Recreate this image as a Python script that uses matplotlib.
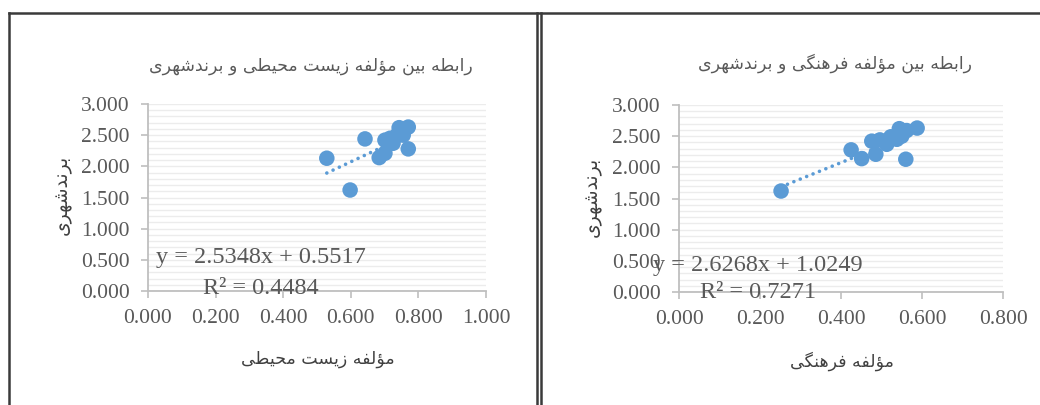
import matplotlib as mpl
import matplotlib.pyplot as plt
import numpy as np
from matplotlib.lines import Line2D
mpl.use('Agg')

# data (same dependent variable)
brand = [1.62, 2.13, 2.14, 2.21, 2.28, 2.37, 2.42, 2.44, 2.45, 2.50, 2.49, 2.59, 2.62, 2.63]
env = [0.598, 0.529, 0.684, 0.701, 0.770, 0.725, 0.701, 0.642, 0.716, 0.755, 0.735, 0.760, 0.743, 0.770]
cult = [0.252, 0.560, 0.451, 0.486, 0.425, 0.513, 0.476, 0.496, 0.538, 0.550, 0.523, 0.562, 0.544, 0.588]

env_fit = (2.5348, 0.5517, 0.4484)
cult_fit = (2.6268, 1.0249, 0.7271)

title_env = 'رابطه بین مؤلفه زیست محیطی و برندشهری'
title_cult = 'رابطه بین مؤلفه فرهنگی و برندشهری'
xlab_env = 'مؤلفه زیست محیطی'
xlab_cult = 'مؤلفه فرهنگی'
ylab = 'برندشهری'

env_xticks = [0.0, 0.2, 0.4, 0.6, 0.8, 1.0]
cult_xticks = [0.0, 0.2, 0.4, 0.6, 0.8]
yticks = [0.0, 0.5, 1.0, 1.5, 2.0, 2.5, 3.0]

# matplotlib has no arabic shaping, so pick presentation forms by hand
# (isolated, final, initial, medial); None = letter does not join forward
FORMS = {
    'ا': ('\uFE8D', '\uFE8E', None, None),
    'ب': ('\uFE8F', '\uFE90', '\uFE91', '\uFE92'),
    'ت': ('\uFE95', '\uFE96', '\uFE97', '\uFE98'),
    'ح': ('\uFEA1', '\uFEA2', '\uFEA3', '\uFEA4'),
    'د': ('\uFEA9', '\uFEAA', None, None),
    'ر': ('\uFEAD', '\uFEAE', None, None),
    'ز': ('\uFEAF', '\uFEB0', None, None),
    'س': ('\uFEB1', '\uFEB2', '\uFEB3', '\uFEB4'),
    'ش': ('\uFEB5', '\uFEB6', '\uFEB7', '\uFEB8'),
    'ط': ('\uFEC1', '\uFEC2', '\uFEC3', '\uFEC4'),
    'ف': ('\uFED1', '\uFED2', '\uFED3', '\uFED4'),
    'ل': ('\uFEDD', '\uFEDE', '\uFEDF', '\uFEE0'),
    'م': ('\uFEE1', '\uFEE2', '\uFEE3', '\uFEE4'),
    'ن': ('\uFEE5', '\uFEE6', '\uFEE7', '\uFEE8'),
    'ه': ('\uFEE9', '\uFEEA', '\uFEEB', '\uFEEC'),
    'و': ('\uFEED', '\uFEEE', None, None),
    'ؤ': ('\uFE85', '\uFE86', None, None),
    'ی': ('\uFBFC', '\uFBFD', '\uFBFE', '\uFBFF'),
    'گ': ('\uFB92', '\uFB93', '\uFB94', '\uFB95'),
}


def shape(s):
    out = []
    for i, ch in enumerate(s):
        if ch not in FORMS:
            out.append(ch)
            continue
        prev = s[i - 1] if i > 0 else ''
        nxt = s[i + 1] if i + 1 < len(s) else ''
        jp = prev in FORMS and FORMS[prev][2] is not None
        jn = nxt in FORMS and FORMS[ch][2] is not None
        iso, fin, ini, med = FORMS[ch]
        if jp and jn:
            out.append(med)
        elif jp:
            out.append(fin)
        elif jn:
            out.append(ini)
        else:
            out.append(iso)
    return ''.join(reversed(out))


blue = '#5B9BD5'
grey = '#595959'
fa = ['DejaVu Sans']
serif = ['Liberation Serif', 'DejaVu Serif']

fig = plt.figure(figsize=(10.4, 4.05), dpi=100)


def panel(rect, x, fit, xticks, xmax):
    ax = fig.add_axes(rect)
    ax.set_xlim(0, xmax)
    ax.set_ylim(0, 3)
    ax.set_xticks(xticks)
    ax.set_yticks(yticks)
    ax.set_yticks(np.arange(0, 3.01, 0.1), minor=True)
    ax.set_xticklabels(['%.3f' % t for t in xticks], family=serif, fontsize=15.5, color=grey)
    ax.set_yticklabels(['%.3f' % t for t in yticks], family=serif, fontsize=15.5, color=grey)
    ax.tick_params(which='major', length=5, width=1.2, color='#bfbfbf', pad=8)
    ax.tick_params(which='minor', length=0)
    ax.grid(axis='y', which='both', color='#ececec', lw=1)
    ax.set_axisbelow(True)
    for s in ['top', 'right']:
        ax.spines[s].set_visible(False)
    for s in ['left', 'bottom']:
        ax.spines[s].set_color('#bfbfbf')
        ax.spines[s].set_linewidth(1.3)
    # Excel linear trendline (round dots), min x to max x
    xs = np.array([min(x), max(x)])
    ax.plot(xs, fit[0] * xs + fit[1], color=blue, lw=2.6, ls=(0, (0.01, 1.9)),
            dash_capstyle='round', zorder=2)
    ax.scatter(x, brand, s=125, color=blue, edgecolor='none', zorder=3)
    return ax


panel([148 / 1040, 1 - 291 / 405, 338 / 1040, 187 / 405], env, env_fit, env_xticks, 1.0)
panel([679 / 1040, 1 - 292 / 405, 324 / 1040, 187 / 405], cult, cult_fit, cult_xticks, 0.8)

# equations
for cx, y1, y2, fit in [(261, 258, 288, env_fit), (758, 265, 293, cult_fit)]:
    fig.text(cx / 1040, 1 - y1 / 405, 'y = %.4fx + %.4f' % (fit[0], fit[1]),
             family=serif, fontsize=17.5, color=grey, ha='center', va='center')
    fig.text(cx / 1040, 1 - y2 / 405, 'R\u00b2 = %.4f' % fit[2],
             family=serif, fontsize=17.5, color=grey, ha='center', va='center')

# titles and axis labels
fig.text(311 / 1040, 1 - 66 / 405, shape(title_env), family=fa, fontsize=12.5,
         color=grey, ha='center', va='center')
fig.text(835 / 1040, 1 - 63 / 405, shape(title_cult), family=fa, fontsize=12.5,
         color=grey, ha='center', va='center')
fig.text(318 / 1040, 1 - 359 / 405, shape(xlab_env), family=fa, fontsize=12.5,
         color='#404040', ha='center', va='center')
fig.text(842 / 1040, 1 - 361 / 405, shape(xlab_cult), family=fa, fontsize=12.5,
         color='#404040', ha='center', va='center')
fig.text(62 / 1040, 1 - 195 / 405, shape(ylab), family=fa, fontsize=13.5,
         color='#404040', ha='center', va='center', rotation=90)
fig.text(592 / 1040, 1 - 197 / 405, shape(ylab), family=fa, fontsize=13.5,
         color='#404040', ha='center', va='center', rotation=90)

# page frame lines around the two charts
ytop = 1 - 13 / 405
for line in [([9 / 1040, 1], [ytop, ytop]),
             ([9 / 1040, 9 / 1040], [0, ytop]),
             ([537 / 1040, 537 / 1040], [0, ytop]),
             ([541 / 1040, 541 / 1040], [0, ytop])]:
    fig.add_artist(Line2D(line[0], line[1], color='#3a3a3a', lw=1.8))

plt.savefig('out.png')
